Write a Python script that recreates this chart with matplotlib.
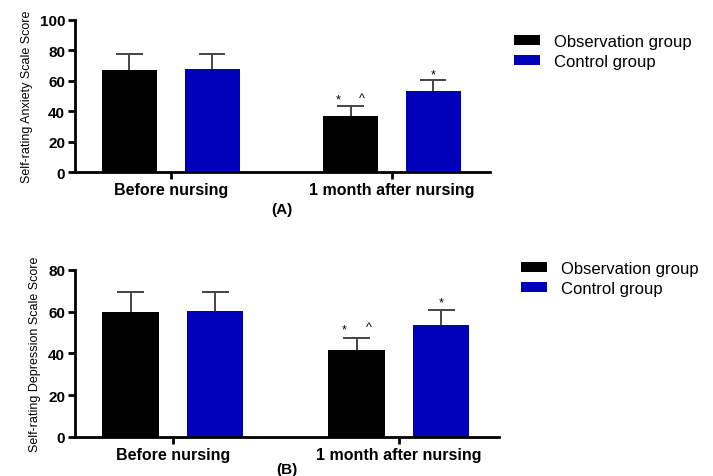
import matplotlib.pyplot as plt
import numpy as np

# Data
groups = ["Before nursing", "1 month after nursing"]
series = ["Observation group", "Control group"]

anxiety_obs = [67.1, 36.6]
anxiety_ctrl = [67.6, 53.3]
anxiety_obs_err = [10.5, 6.8]
anxiety_ctrl_err = [10.2, 7.2]

depress_obs = [60.0, 41.5]
depress_ctrl = [60.5, 53.4]
depress_obs_err = [9.4, 5.9]
depress_ctrl_err = [8.9, 7.4]

colors = ["#000000", "#0000BB"]

plt.rcParams["font.family"] = ["Liberation Sans", "DejaVu Sans"]

fig = plt.figure(figsize=(7.13, 4.77), dpi=100)

ax_a = fig.add_axes([0.105, 0.637, 0.582, 0.319])
ax_b = fig.add_axes([0.105, 0.082, 0.595, 0.350])

x = np.arange(len(groups))
offset = 0.187
width = 0.25
cap = 0.06


def draw_panel(ax, obs, ctrl, obs_err, ctrl_err, ymax, ylabel, tag, tag_y,
               marks_obs, marks_ctrl, legend_xy):
    ax.bar(x - offset, obs, width, color=colors[0], label=series[0])
    ax.bar(x + offset, ctrl, width, color=colors[1], label=series[1])

    # upper error bars only
    for xs, vals, errs in [(x - offset, obs, obs_err), (x + offset, ctrl, ctrl_err)]:
        tops = np.array(vals) + np.array(errs)
        ax.vlines(xs, vals, tops, color="#444444", linewidth=1.4)
        ax.hlines(tops, xs - cap, xs + cap, color="#444444", linewidth=1.4)

    # significance marks
    ax.text(1 - offset - 0.054, marks_obs, "*", ha="center", va="center",
            fontsize=9)
    ax.text(1 - offset + 0.053, marks_obs + 1, "^", ha="center", va="center",
            fontsize=9)
    ax.text(1 + offset, marks_ctrl, "*", ha="center", va="center",
            fontsize=9)

    ax.set_xlim(-0.434, 1.443)
    ax.set_ylim(0, ymax)
    ax.set_yticks(np.arange(0, ymax + 1, 20))
    ax.set_xticks(x)
    ax.set_xticklabels(groups, fontsize=11.5, fontweight="bold")
    for lab in ax.get_yticklabels():
        lab.set_fontweight("bold")
        lab.set_fontsize(11)

    ax.spines["top"].set_visible(False)
    ax.spines["right"].set_visible(False)
    ax.spines["left"].set_linewidth(2)
    ax.spines["bottom"].set_linewidth(2)
    ax.tick_params(axis="both", width=2, length=5, pad=2)

    ax.set_ylabel(ylabel, fontsize=9, labelpad=5)

    ax.legend(
        loc="upper left",
        bbox_to_anchor=legend_xy,
        bbox_transform=fig.transFigure,
        frameon=False,
        fontsize=12,
        handlelength=1.6,
        handleheight=0.55,
        handletextpad=0.8,
        labelspacing=0.3,
        borderaxespad=0
    )
    ax.text(0.50, tag_y, tag, transform=ax.transAxes, ha="center",
            va="center", fontsize=11, fontweight="bold")


draw_panel(ax_a, anxiety_obs, anxiety_ctrl, anxiety_obs_err, anxiety_ctrl_err,
           100, "Self-rating Anxiety Scale Score", "(A)", -0.24, 47.6, 64.5,
           (0.711, 0.941))

draw_panel(ax_b, depress_obs, depress_ctrl, depress_obs_err, depress_ctrl_err,
           80, "Self-rating Depression Scale Score", "(B)", -0.19, 51.5, 64.4,
           (0.721, 0.465))

fig.savefig("out.png", dpi=100)
